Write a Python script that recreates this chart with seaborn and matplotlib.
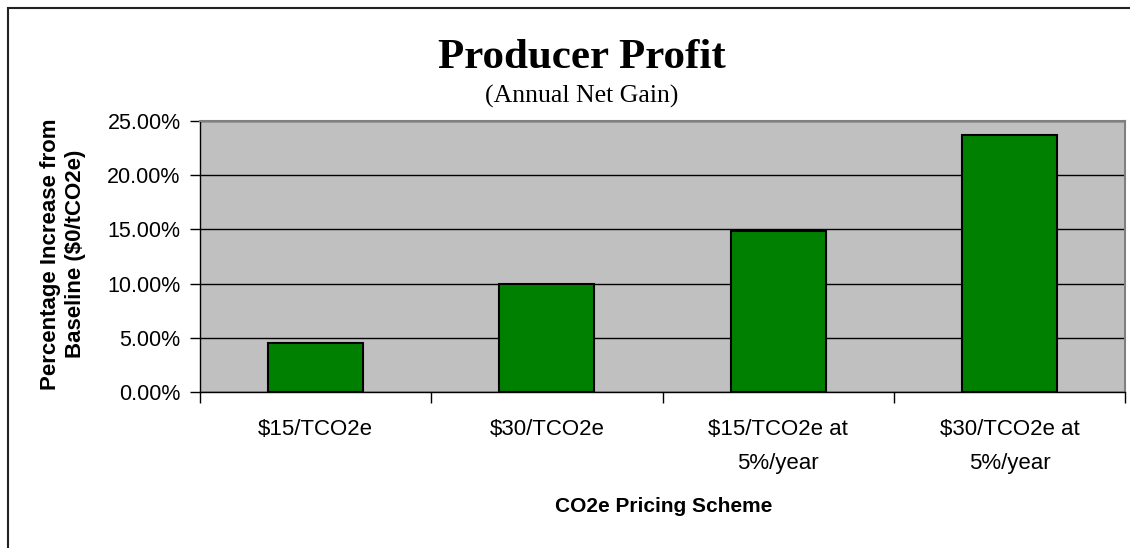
import matplotlib
matplotlib.use("Agg")
import matplotlib.pyplot as plt
import seaborn as sns
import pandas as pd
from matplotlib.patches import Rectangle
from matplotlib.ticker import FixedLocator, FuncFormatter

categories = ["$15/TCO2e", "$30/TCO2e", "$15/TCO2e at\n5%/year", "$30/TCO2e at\n5%/year"]
values = [4.57, 9.94, 14.88, 23.68]
yticks = [0, 5, 10, 15, 20, 25]

sns.set_theme(style="white")
plt.rcParams['font.family'] = ['Liberation Sans', 'DejaVu Sans']
plt.rcParams['text.color'] = 'black'
plt.rcParams['xtick.color'] = 'black'
plt.rcParams['ytick.color'] = 'black'
plt.rcParams['xtick.labelcolor'] = 'black'
plt.rcParams['ytick.labelcolor'] = 'black'

W, H = 1130, 548
fig = plt.figure(figsize=(W / 100, H / 100), dpi=100)
L, R, T, B = 200, 1125, 120.7, 392.3
ax = fig.add_axes([L / W, 1 - B / H, (R - L) / W, (B - T) / H])
ax.set_facecolor("#c0c0c0")

df = pd.DataFrame({"cat": categories, "val": values})
sns.barplot(data=df, x="cat", y="val", ax=ax, color="#008000", width=0.41,
            edgecolor="black", linewidth=1.5, saturation=1)

ax.set_xlim(-0.5, len(categories) - 0.5)
ax.set_ylim(0, 25)
ax.set_yticks(yticks)
ax.yaxis.set_major_formatter(FuncFormatter(lambda v, p: f"{v:.2f}%"))
ax.set_axisbelow(True)
ax.yaxis.grid(True, color="black", linewidth=1)
ax.xaxis.grid(False)

ax.tick_params(axis="y", direction="out", length=7, width=1, color="black",
               labelsize=15.5, pad=7, left=True)
ax.tick_params(axis="x", which="major", length=0, labelsize=16, pad=19.5)
ax.xaxis.set_minor_locator(FixedLocator([i - 0.5 for i in range(len(categories) + 1)]))
ax.tick_params(axis="x", which="minor", direction="out", length=8, width=1,
               color="black", bottom=True)
for lab in ax.get_xticklabels():
    lab.set_linespacing(1.78)
    lab.set_color("black")

for s in ["top", "right"]:
    ax.spines[s].set_color("#808080")
    ax.spines[s].set_linewidth(1.5)
for s in ["left", "bottom"]:
    ax.spines[s].set_color("black")
    ax.spines[s].set_linewidth(1)

ax.set_xlabel("")
ax.set_ylabel("")
fig.text(664 / W, 1 - 507 / H, "CO2e Pricing Scheme", ha="center", va="center",
         fontsize=15, fontweight="bold", color="black")
fig.text(63 / W, 1 - 254 / H, "Percentage Increase from\nBaseline ($0/tCO2e)",
         ha="center", va="center", rotation=90, fontsize=16, fontweight="bold",
         linespacing=1.3, color="black")

fig.text(582 / W, 1 - 68 / H, "Producer Profit", ha="center", va="baseline",
         fontsize=31, fontweight="bold", color="black",
         family=["Liberation Serif", "DejaVu Serif"])
fig.text(582 / W, 1 - 103 / H, "(Annual Net Gain)", ha="center", va="baseline",
         fontsize=18.5, color="black", family=["Liberation Serif", "DejaVu Serif"])

fig.patches.append(Rectangle((7.5 / W, -0.2), 1.2, 1 - 8 / H + 0.2,
                             transform=fig.transFigure, fill=False,
                             edgecolor="#222222", linewidth=1.5))

fig.savefig("out.png", dpi=100, facecolor="white")
